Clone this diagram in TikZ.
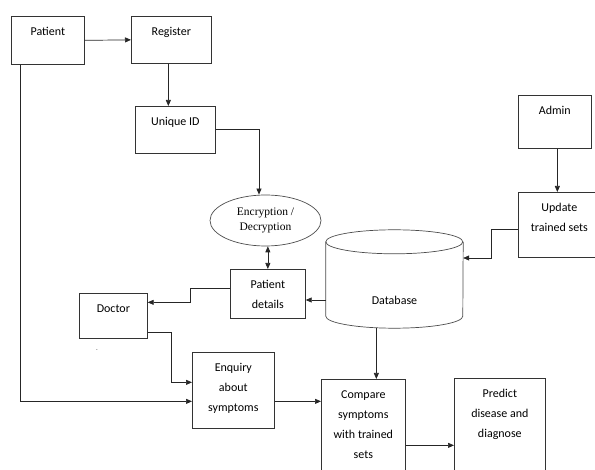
\documentclass[tikz,border=0pt]{standalone}
\usepackage{fontspec}
\setmainfont{Carlito}
\newfontfamily\encfont{Liberation Serif}
\usetikzlibrary{arrows.meta,shapes.geometric}
\newcommand{\boxtext}[3]{\parbox[t][#2pt][t]{#1pt}{\centering\vspace*{5pt}\strut #3}}

\begin{document}
\begin{tikzpicture}[x=1pt,y=-1pt,
every node/.style={font=\fontsize{12}{20}\selectfont},
stepbox/.style={draw=black!80, line width=0.7pt, inner sep=0pt, anchor=north west},
flow/.style={draw=black!85, line width=0.7pt, -{Triangle[length=6pt,width=5pt]}},
edge/.style={draw=black!70, line width=0.7pt}]
\clip (0,0) rectangle (595,470);

%boxes of the flow
\node[stepbox](patient) at (11,16) {\boxtext{73}{48}{Patient}};
\node[stepbox](register) at (131,16) {\boxtext{80}{47}{Register}};
\node[stepbox](uid) at (135,106) {\boxtext{80}{47}{Unique ID}};
\node[draw=black!70, line width=0.7pt, ellipse, minimum width=111pt, minimum height=51pt, inner sep=0pt,
	font=\encfont\fontsize{11.5}{15}\selectfont, align=center](enc) at (265.5,220.5) {Encryption /\\Decryption};
\node[stepbox](details) at (230,269) {\boxtext{75}{49}{Patient\\details}};
\node[stepbox](doctor) at (79,293) {\boxtext{68}{45}{Doctor}};
\node[font=\tiny](mark) at (97,351) {-};
\node[stepbox](enq) at (192,352) {\boxtext{82}{76}{Enquiry\\about\\symptoms}};
\node[stepbox](cmp) at (321,379) {\boxtext{84}{100}{Compare\\symptoms\\with trained\\sets}};
\node[stepbox](pred) at (454,378) {\boxtext{91}{100}{Predict\\disease and\\diagnose}};
\node[stepbox](admin) at (518,95) {\boxtext{73}{53}{Admin}};
\node[stepbox](upd) at (518,192) {\boxtext{82}{65}{Update\\trained sets}};

%database cylinder
\node[minimum width=137pt, minimum height=98pt, inner sep=0pt](db) at (394.5,279) {};
\draw[edge] (db.north west) ++(0,12) arc[start angle=180, end angle=-180, x radius=68.5, y radius=12];
\draw[edge] ([yshift=-12pt]db.north west) -- ([yshift=12pt]db.south west)
	arc[start angle=180, end angle=0, x radius=68.5, y radius=12] -- ([yshift=-12pt]db.north east);
\node(dbtext) at (394.5,300) {Database};

%connectors
\draw[flow] (patient.east) -- (register.west);
\draw[flow] ([xshift=-3pt]register.south) -- ([xshift=-3pt]register.south |- uid.north);
\draw[flow] (uid.east) -| ([xshift=-6.5pt]enc.north);
\draw[flow, {Triangle[length=6pt,width=5pt]}-{Triangle[length=6pt,width=5pt]}] (details.north |- enc.south) -- (details.north);
\draw[flow] ([yshift=5.5pt]details.west) -- ++(-40,0) |- ([yshift=13.5pt]doctor.east);
\draw[flow] ([yshift=-16.5pt]doctor.east) -- ++(24,0) |- ([yshift=8pt]enq.west);
\draw[flow] ([xshift=-27.5pt]patient.south) |- ([yshift=-11pt]enq.west);
\draw[flow] ([yshift=-11pt]enq.east) -- ([yshift=-11pt]enq.east -| cmp.west);
\draw[flow] ([xshift=13pt]cmp.north |- db.south) -- ([xshift=13pt]cmp.north);
\draw[flow] ([yshift=-16pt]cmp.east) -- ([yshift=-16pt]cmp.east -| pred.west);
\draw[flow] ([xshift=2.5pt]admin.south) -- ([xshift=2.5pt]admin.south |- upd.north);
\draw[flow] ([yshift=-4.5pt]upd.west) -- ++(-27,0) |- ([yshift=21pt]db.east);
\draw[flow] ([yshift=-21pt]db.west) -- ([yshift=-21pt]db.west -| details.east);
\end{tikzpicture}
\end{document}
